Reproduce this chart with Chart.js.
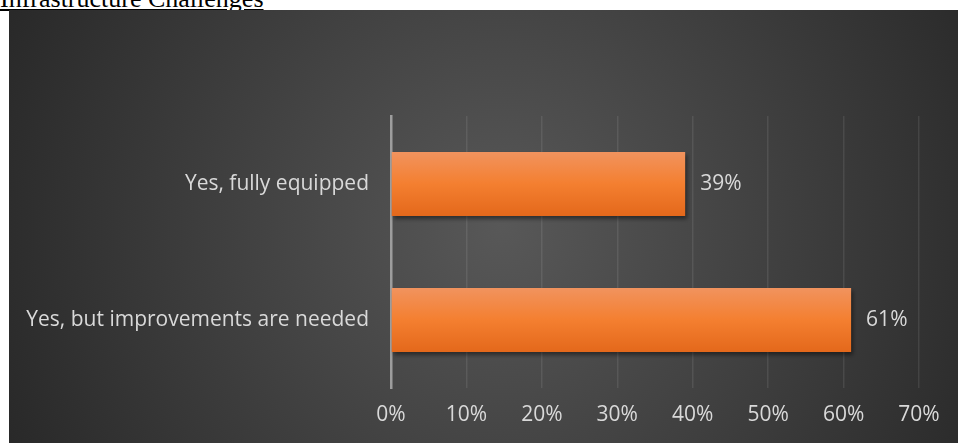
<!DOCTYPE html>
<html>
<head>
<meta charset="utf-8">
<script src="https://cdn.jsdelivr.net/npm/chart.js@4"></script>
<style>
  html, body { margin: 0; padding: 0; background: #fff; width: 958px; height: 443px; overflow: hidden; }
  #title {
    position: absolute; left: 0; top: -16px;
    font-family: "Liberation Serif", "Times New Roman", serif; font-size: 26px;
    color: #000; text-decoration: underline; text-underline-offset: 2px; white-space: nowrap;
  }
  #wrap { position: absolute; left: 9px; top: 10px; width: 949px; height: 433px; }
</style>
</head>
<body>
<div id="title">Infrastructure Challenges</div>
<div id="wrap"><canvas id="infra_chart"></canvas></div>
<script>
let categories = ["Yes, fully equipped", "Yes, but improvements are needed"];
let shares = [0.39, 0.61];
let tick_values = [0, 0.1, 0.2, 0.3, 0.4, 0.5, 0.6, 0.7];

const labelFont = { family: "'Open Sans', sans-serif", size: 21 };
const textColor = "#d9d9d9";

// Panel background: radial gradient, lighter in the middle
const panelBackground = {
    id: "panelBackground",
    beforeDraw(chart) {
        const { ctx, width, height } = chart;
        const g = ctx.createRadialGradient(width * 0.52, height * 0.5, 0, width * 0.52, height * 0.5, width * 0.6);
        g.addColorStop(0, "#585858");
        g.addColorStop(1, "#262626");
        ctx.save();
        ctx.fillStyle = g;
        ctx.fillRect(0, 0, width, height);
        ctx.restore();
    }
};

// Soft drop shadow under the bars
const barShadow = {
    id: "barShadow",
    beforeDatasetDraw(chart) {
        const ctx = chart.ctx;
        ctx.save();
        ctx.shadowColor = "rgba(0,0,0,0.45)";
        ctx.shadowOffsetX = 2;
        ctx.shadowOffsetY = 3;
        ctx.shadowBlur = 4;
    },
    afterDatasetDraw(chart) {
        chart.ctx.restore();
    }
};

// Value labels to the right of each bar
const valueLabels = {
    id: "valueLabels",
    afterDatasetsDraw(chart) {
        const ctx = chart.ctx;
        const meta = chart.getDatasetMeta(0);
        ctx.save();
        ctx.fillStyle = textColor;
        ctx.font = labelFont.size + "px " + labelFont.family;
        ctx.textBaseline = "middle";
        meta.data.forEach((bar, i) => {
            ctx.fillText(Math.round(shares[i] * 100) + "%", bar.x + 15, bar.y);
        });
        ctx.restore();
    }
};

function barGradient(context) {
    const chart = context.chart;
    if (!chart.chartArea) return "#ed7d31";
    const yScale = chart.scales.y;
    const yc = yScale.getPixelForValue(context.dataIndex);
    const half = 32;
    const g = chart.ctx.createLinearGradient(0, yc - half, 0, yc + half);
    g.addColorStop(0, "#f1935e");
    g.addColorStop(0.5, "#f47f30");
    g.addColorStop(1, "#e4681b");
    return g;
}

Chart.defaults.font.family = labelFont.family;
Chart.defaults.color = textColor;

new Chart("infra_chart", {
    type: "bar",
    data: {
        labels: categories,
        datasets: [{
            data: shares,
            backgroundColor: barGradient,
            borderWidth: 0,
            barPercentage: 0.47,
            categoryPercentage: 1
        }]
    },
    plugins: [panelBackground, barShadow, valueLabels],
    options: {
        indexAxis: "y",
        responsive: true,
        maintainAspectRatio: false,
        animation: false,
        layout: { padding: { top: 106, right: 39, left: 0, bottom: 0 } },
        plugins: { legend: { display: false }, tooltip: { enabled: false } },
        scales: {
            x: {
                min: 0,
                max: 0.7,
                afterBuildTicks: (scale) => { scale.ticks = tick_values.map(v => ({ value: v })); },
                afterFit: (scale) => { scale.height = 55; },
                ticks: {
                    color: textColor,
                    font: labelFont,
                    padding: 14,
                    callback: (v) => Math.round(v * 100) + "%"
                },
                grid: { color: "rgba(255,255,255,0.09)", lineWidth: 1.5, drawTicks: false },
                border: { display: false }
            },
            y: {
                afterFit: (scale) => { scale.width = 382; },
                ticks: { color: textColor, font: labelFont, padding: 22 },
                grid: { display: false, drawTicks: false },
                border: { display: true, color: "#9d9d9d", width: 2.5 }
            }
        }
    }
});
</script>
</body>
</html>
